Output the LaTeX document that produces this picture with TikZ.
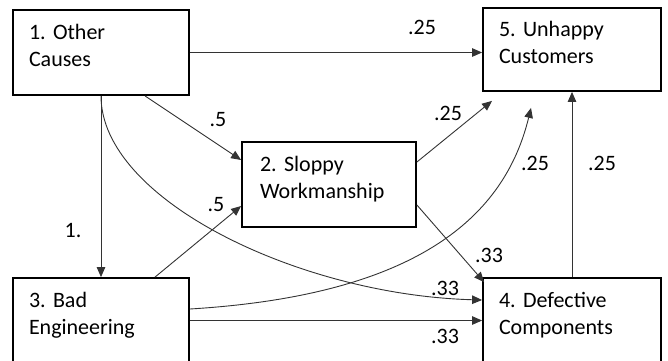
\documentclass[tikz,border=0pt]{standalone}
\usepackage{fontspec}
\setmainfont{Carlito}
\usetikzlibrary{arrows.meta,calc}
\newcommand{\lowstrut}{\rule[-15pt]{0pt}{15pt}}
\begin{document}
\frenchspacing
\begin{tikzpicture}[x=1pt,y=-1pt,
  box/.style={draw=black, line width=1.8pt, inner xsep=16pt, inner ysep=0pt, align=left, font=\fontsize{22}{27}\selectfont},
  conn/.style={draw=black!80, line width=0.9pt, -{Triangle[length=10pt,width=8.5pt]}},
  lbl/.style={font=\fontsize{22}{27}\selectfont, inner sep=0pt}]
\useasboundingbox (0,0) rectangle (668,360);
\clip (0,0) rectangle (668,360);
% boxes
\node[box, minimum width=176pt, minimum height=85pt, text width=144pt] (n1) at (101,52.5) {1. Other\\Causes\lowstrut};
\node[box, minimum width=178pt, minimum height=83pt, text width=146pt] (n5) at (572,49.5) {5. Unhappy\\Customers\lowstrut};
\node[box, minimum width=174pt, minimum height=85pt, inner xsep=18pt, text width=138pt] (n2) at (329,184.5) {2. Sloppy\\Workmanship\lowstrut};
\node[box, minimum width=176pt, minimum height=85pt, text width=144pt] (n3) at (101,320.5) {3. Bad\\Engineering\lowstrut};
\node[box, minimum width=178pt, minimum height=85pt, text width=146pt] (n4) at (572,320.5) {4. Defective\\Components\lowstrut};
% connectors
\draw[conn] (n1.east) -- (n1.east -| n5.west);
\draw[conn] ([xshift=44pt]n1.south) -- ([yshift=24.5pt]n2.west);
\draw[conn] (n1.south) -- (n3.north);
\draw[conn] (n1.south) .. controls (101,200) and (300,295) .. ([yshift=20.5pt]n4.west);
\draw[conn] ([xshift=54pt]n3.north) -- ([yshift=-21.5pt]n2.west);
\draw[conn] ([yshift=11.5pt]n3.east) .. controls (420,295) and (505,215) .. ([xshift=-41pt,yshift=-16pt]n5.south);
\draw[conn] (n3.east) -- (n4.west);
\draw[conn] ([yshift=22.5pt]n2.east) -- ([xshift=-80pt,yshift=-9pt]n5.south);
\draw[conn] ([yshift=-20.5pt]n2.east) -- ([xshift=2pt,yshift=-5pt]n4.north west);
\draw[conn] (n4.north) -- (n5.south);
% labels
\node[lbl] (l15) at (422,27) {.25};
\node[lbl] (l12) at (218,120) {.5};
\node[lbl] (l13) at (73,230) {1.};
\node[lbl] (l32) at (216,205) {.5};
\node[lbl] (l25) at (448,113) {.25};
\node[lbl] (l35) at (535,163) {.25};
\node[lbl] (l45) at (602,163) {.25};
\node[lbl] (l24) at (489,255) {.33};
\node[lbl] (l14) at (445,288) {.33};
\node[lbl] (l34) at (445,336) {.33};
\end{tikzpicture}
\end{document}
